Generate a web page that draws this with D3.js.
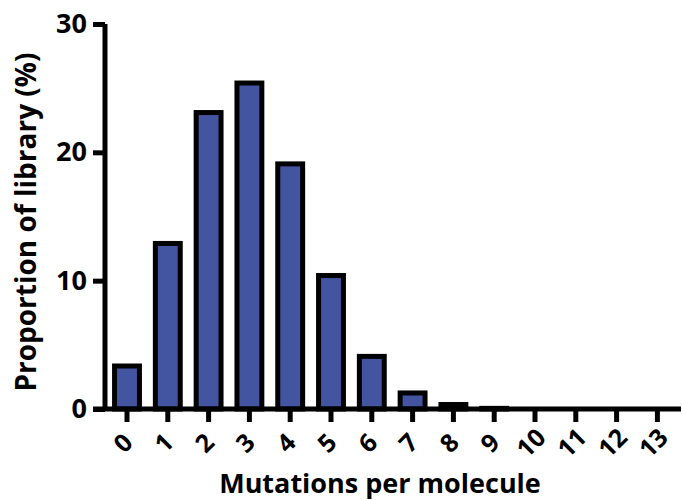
<!DOCTYPE html>
<html>
<head>
<meta charset="utf-8">
<script src="https://cdn.jsdelivr.net/npm/d3@7"></script>
<style>
  body { margin: 0; background: #fff; }
  text { font-family: "Open Sans", "DejaVu Sans", sans-serif; font-weight: 700; }
</style>
</head>
<body>
<svg id="chart"></svg>
<script>
// mutations per molecule and share of library (%)
var mutations = [0, 1, 2, 3, 4, 5, 6, 7, 8, 9, 10, 11, 12, 13];
var proportion = [3.35, 12.9, 23.1, 25.4, 19.1, 10.4, 4.1, 1.25, 0.35, 0.05, 0, 0, 0, 0];
var yTicks = [0, 10, 20, 30];

var svgWidth = 682, svgHeight = 500;
var svg = d3.select('#chart')
    .attr("width", svgWidth)
    .attr("height", svgHeight);

var x = d3.scaleBand()
    .domain(mutations)
    .range([106.6, 677.8])
    .paddingInner(0.39)
    .paddingOuter(0.195);

var y = d3.scaleLinear()
    .domain([0, 30])
    .range([409, 24]);

var data = mutations.map(function(m, i) { return { m: m, v: proportion[i] }; });

// bars
svg.append("g").selectAll("rect")
    .data(data)
    .enter().append("rect")
    .attr("x", function(d) { return x(d.m); })
    .attr("y", function(d) { return y(d.v); })
    .attr("width", x.bandwidth())
    .attr("height", function(d) { return y(0) - y(d.v); })
    .attr("fill", "#4354a1")
    .attr("stroke", "#000")
    .attr("stroke-width", function(d) { return d.v > 0 ? 5 : 0; });

// y axis
var yAxis = svg.append("g")
    .attr("transform", "translate(105,0)")
    .call(d3.axisLeft(y).tickValues(yTicks).tickSize(12).tickPadding(6));
yAxis.select(".domain").attr("stroke-width", 5).attr("d", "M0," + y(30) + "V" + y(0));
yAxis.selectAll(".tick line").attr("stroke-width", 5);
yAxis.selectAll(".tick text").style("font-size", "27px").attr("fill", "#000");

// x axis
var xAxis = svg.append("g")
    .attr("transform", "translate(0," + y(0) + ")")
    .call(d3.axisBottom(x).tickSize(13).tickSizeOuter(0));
xAxis.select(".domain").attr("stroke-width", 5).attr("d", "M93,0H681");
xAxis.selectAll(".tick line").attr("stroke-width", 5);
xAxis.selectAll(".tick text")
    .style("font-size", "25px")
    .attr("fill", "#000")
    .attr("text-anchor", "middle")
    .attr("dy", "0.35em")
    .attr("transform", "translate(-4,34) rotate(-45)")
    .attr("y", 0)
    .attr("x", 0);

// axis titles
svg.append("text")
    .attr("x", 380)
    .attr("y", 493)
    .attr("text-anchor", "middle")
    .style("font-size", "27px")
    .text("Mutations per molecule");

svg.append("text")
    .attr("transform", "translate(36,222) rotate(-90)")
    .attr("text-anchor", "middle")
    .style("font-size", "28px")
    .text("Proportion of library (%)");
</script>
</body>
</html>
